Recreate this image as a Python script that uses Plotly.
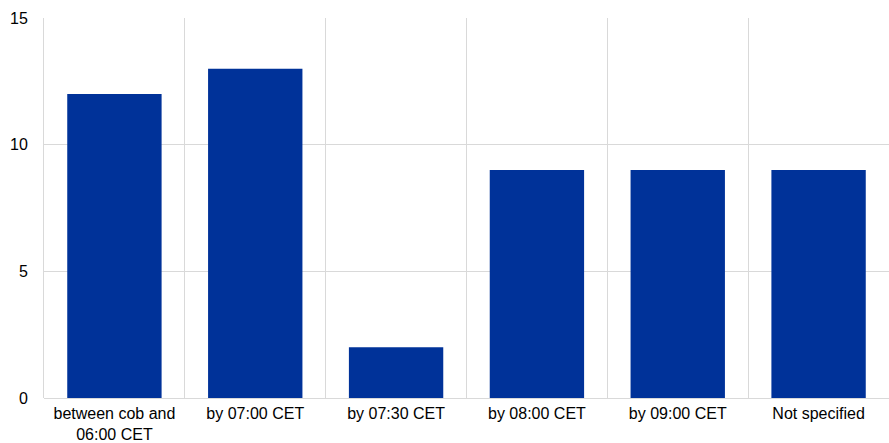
import plotly.graph_objects as go

categories = ["between cob and<br>06:00 CET", "by 07:00 CET", "by 07:30 CET",
              "by 08:00 CET", "by 09:00 CET", "Not specified"]
values = [12, 13, 2, 9, 9, 9]
y_ticks = [0, 5, 10, 15]

fig = go.Figure()
# invisible trace to activate xaxis2 gridlines
fig.add_trace(go.Scatter(x=[0], y=[0], xaxis="x2", mode="markers",
                         marker=dict(opacity=0), hoverinfo="skip", showlegend=False))
fig.add_trace(go.Bar(x=list(range(len(categories))), y=values,
                     marker=dict(color="#003299", line=dict(width=0)),
                     width=0.67, hoverinfo="y"))

grid = "#d9d9d9"
fig.update_layout(
    width=889, height=443,
    margin=dict(l=44, r=0, t=18, b=45),
    paper_bgcolor="white", plot_bgcolor="white",
    showlegend=False,
    font=dict(family="Liberation Sans, Arial, sans-serif", size=16, color="#000000"),
    xaxis=dict(
        range=[-0.5, len(categories) - 0.5], automargin=False,
        tickmode="array", tickvals=list(range(len(categories))), ticktext=categories,
        showgrid=False, zeroline=False, ticks="", showline=False,
        tickfont=dict(size=16), ticklabelstandoff=4,
    ),
    xaxis2=dict(
        overlaying="x", range=[-0.5, len(categories) - 0.5], automargin=False,
        tickmode="linear", tick0=-0.5, dtick=1,
        showgrid=True, gridcolor=grid, gridwidth=1,
        showticklabels=False, ticks="", zeroline=False,
    ),
    yaxis=dict(
        range=[0, 15], tickvals=y_ticks, showgrid=True, gridcolor=grid, gridwidth=1,
        zeroline=True, zerolinecolor=grid, zerolinewidth=1, ticks="",
        showline=True, linecolor=grid, linewidth=1, automargin=False,
        ticklabelstandoff=12, tickfont=dict(size=16),
    ),
)

fig.write_html("out.html", config={"displayModeBar": False},
               post_script="document.body.style.margin='0';document.body.style.overflow='hidden';")
